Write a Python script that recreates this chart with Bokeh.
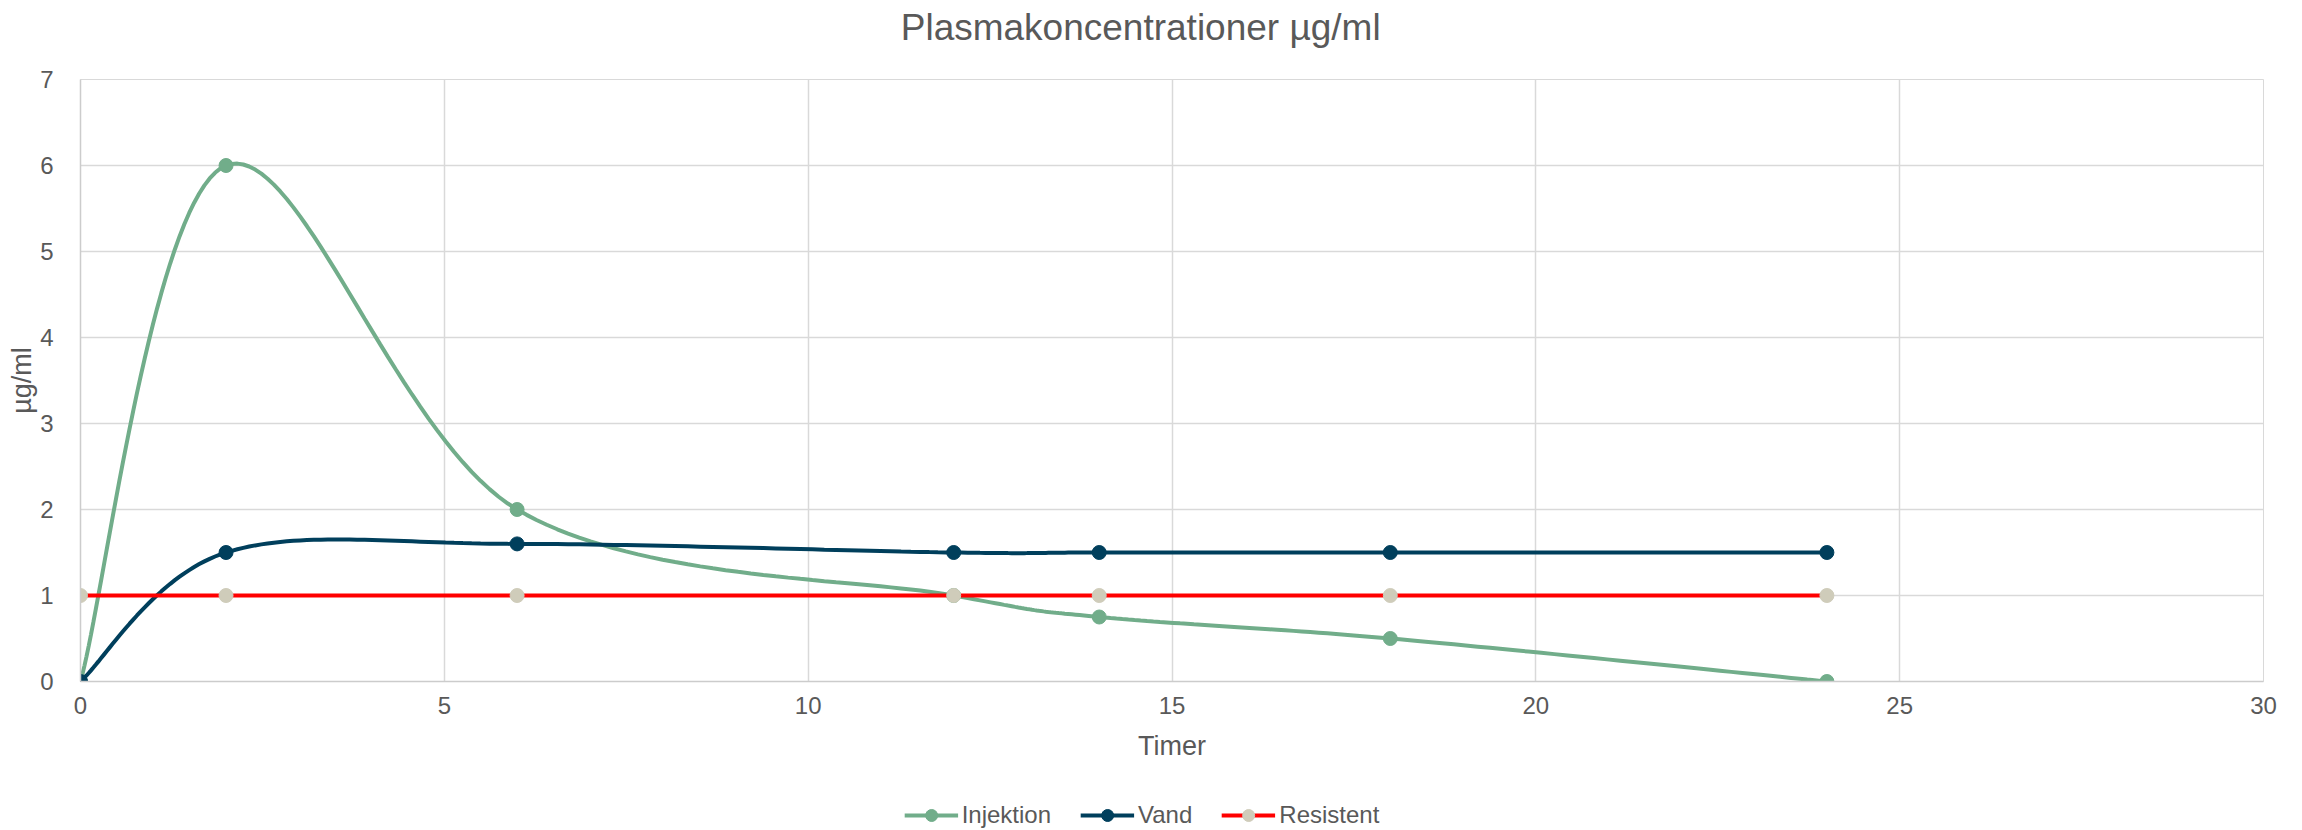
import numpy as np
from bokeh.plotting import figure
from bokeh.models import Legend, LegendItem, FixedTicker, Range1d, Label
from bokeh.layouts import column
from bokeh.embed import file_html
from bokeh.resources import INLINE

# ---- data ----
timer = [0, 2, 6, 12, 14, 18, 24]
injektion = [0, 6, 2, 1, 0.75, 0.5, 0]
vand = [0, 1.5, 1.6, 1.5, 1.5, 1.5, 1.5]
resistent = [1, 1, 1, 1, 1, 1, 1]
x_ticks = [0, 5, 10, 15, 20, 25, 30]
y_ticks = [0, 1, 2, 3, 4, 5, 6, 7]
series_names = ["Injektion", "Vand", "Resistent"]

title_txt = "Plasmakoncentrationer µg/ml"
x_title = "Timer"
y_title = "µg/ml"

C_INJ = "#71AD8A"
C_VAND = "#003F5C"
C_RES_LINE = "#FF0000"
C_RES_MARK = "#CFCCBA"
TXT = "#595959"
FONT = "Liberation Sans"

W = 2302
TITLE_H = 55
LEG_H = 60
MAIN_H = 830 - TITLE_H - LEG_H


def smooth(xs, ys, n=40):
    """Excel-style smoothed line (Catmull-Rom Bezier, tension 1/6)."""
    P = np.column_stack([xs, ys]).astype(float)
    out = []
    m = len(P)
    for i in range(m - 1):
        p0 = P[i - 1] if i > 0 else P[i]
        p1 = P[i]
        p2 = P[i + 1]
        p3 = P[i + 2] if i + 2 < m else P[i + 1]
        c1 = p1 + (p2 - p0) / 6.0
        c2 = p2 - (p3 - p1) / 6.0
        t = np.linspace(0, 1, n)[:, None]
        seg = ((1 - t) ** 3) * p1 + 3 * ((1 - t) ** 2) * t * c1 + 3 * (1 - t) * t ** 2 * c2 + t ** 3 * p2
        out.append(seg if i == 0 else seg[1:])
    a = np.vstack(out)
    return a[:, 0], a[:, 1]


def blank_fig(w, h):
    f = figure(width=w, height=h, output_backend="svg", toolbar_location=None,
               x_range=Range1d(0, w), y_range=Range1d(0, h),
               x_axis_type=None, y_axis_type=None,
               min_border=0, min_border_left=0, min_border_right=0,
               min_border_top=0, min_border_bottom=0)
    f.grid.visible = False
    f.outline_line_color = None
    f.background_fill_color = "white"
    f.border_fill_color = "white"
    return f


# ---- title strip ----
pt = blank_fig(W, TITLE_H)
pt.add_layout(Label(x=1118, y=TITLE_H - 27, text=title_txt, text_align="center",
                    text_baseline="middle", text_font=FONT, text_font_size="37px",
                    text_color=TXT))

# ---- main chart ----
p = figure(width=W, height=MAIN_H, output_backend="svg", toolbar_location=None,
           x_range=Range1d(0, 30), y_range=Range1d(0, 7),
           min_border_left=80, min_border_right=39,
           min_border_top=79 - TITLE_H, min_border_bottom=MAIN_H - (681 - TITLE_H))

p.outline_line_color = "#D9D9D9"
p.background_fill_color = "white"
p.border_fill_color = "white"

for ax in (p.xaxis[0], p.yaxis[0]):
    ax.major_tick_line_color = None
    ax.minor_tick_line_color = None
    ax.major_label_text_font = FONT
    ax.major_label_text_font_size = "24px"
    ax.major_label_text_color = TXT
    ax.axis_label_text_font = FONT
    ax.axis_label_text_font_size = "27px"
    ax.axis_label_text_font_style = "normal"
    ax.axis_label_text_color = TXT
    ax.axis_line_color = "#CCCCCC"
    ax.axis_line_width = 1.5

p.xaxis.ticker = FixedTicker(ticks=x_ticks)
p.yaxis.ticker = FixedTicker(ticks=y_ticks)
p.xaxis.axis_label = x_title
p.yaxis.axis_label = y_title
p.xaxis.major_label_standoff = 9
p.xaxis.axis_label_standoff = 14
p.yaxis.major_label_standoff = 21
p.yaxis.axis_label_standoff = 0

p.xgrid.ticker = FixedTicker(ticks=x_ticks)
p.ygrid.ticker = FixedTicker(ticks=y_ticks)
p.grid.grid_line_color = "#D9D9D9"
p.grid.grid_line_width = 1.5

sx, sy = smooth(timer, injektion)
p.line(sx, sy, line_color=C_INJ, line_width=4)
p.scatter(timer, injektion, size=14, fill_color=C_INJ, line_color=C_INJ)

sx, sy = smooth(timer, vand)
p.line(sx, sy, line_color=C_VAND, line_width=4)
p.scatter(timer, vand, size=14, fill_color=C_VAND, line_color=C_VAND)

p.line(timer, resistent, line_color=C_RES_LINE, line_width=4)
p.scatter(timer, resistent, size=14, fill_color=C_RES_MARK, line_color=C_RES_MARK)

# ---- legend strip (narrower so that its centre sits where the reference legend is) ----
LEG_W = W - 60
pl = blank_fig(LEG_W, LEG_H)
styles = [(C_INJ, C_INJ), (C_VAND, C_VAND), (C_RES_LINE, C_RES_MARK)]
items = []
for name, (lc, mc) in zip(series_names, styles):
    lr = pl.line([-100, -90], [-100, -100], line_color=lc, line_width=4)
    mr = pl.scatter([-100], [-100], size=14, fill_color=mc, line_color=mc)
    items.append(LegendItem(label=name, renderers=[lr, mr]))

legend = Legend(items=items, orientation="horizontal", location="bottom_center")
legend.label_text_font = FONT
legend.label_text_font_size = "24px"
legend.label_text_color = TXT
legend.glyph_width = 54
legend.glyph_height = 30
legend.label_height = 30
legend.label_standoff = 4
legend.spacing = 29
legend.padding = 0
legend.margin = 0
legend.border_line_color = None
legend.background_fill_alpha = 0
pl.add_layout(legend, "center")

layout = column(pt, p, pl, spacing=0)
open("out.html", "w").write(file_html(layout, INLINE))
